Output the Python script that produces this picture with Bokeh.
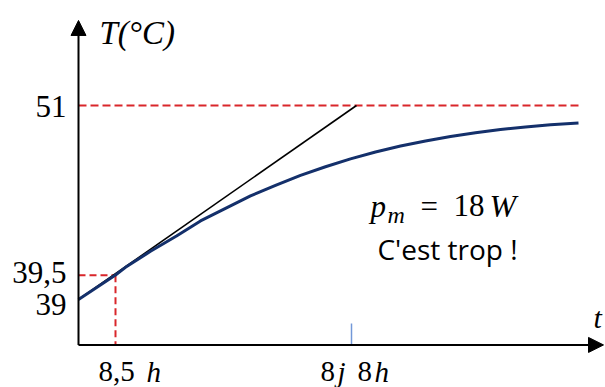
from bokeh.plotting import figure
from bokeh.models import Range1d, Arrow, NormalHead, Label
from bokeh.embed import file_html
from bokeh.resources import INLINE

# ---- schematic data (x: time, schematic units; y: temperature scale) ----
curve_t = [0.0, 0.74, 0.94, 1.44, 1.96, 2.44, 3.44, 3.94, 4.44, 4.94, 5.44, 5.94,
           6.44, 6.94, 7.44, 7.94, 8.44, 8.94, 9.44, 10.0]
curve_T = [39.0, 40.52, 40.99, 41.98, 42.93, 43.86, 45.41, 46.06, 46.68, 47.21, 47.70, 48.12,
           48.49, 48.80, 49.08, 49.31, 49.51, 49.67, 49.81, 49.92]

tangent_t = [0.0, 5.56]
tangent_T = [39.0, 51.0]

T_max = 51.0
T_ref = 40.5          # position of the "39,5" mark on the schematic scale
t_ref = 0.74          # position of the "8,5 h" mark
t_day = 5.46          # position of the "8j 8h" mark
t_end = 10.0

y_tick_vals = [51.0, 40.5, 39.0]
y_tick_labels = ["51", "39,5", "39"]

axis_y0 = 36.19       # level of the time axis
axis_x_tip = 10.5
axis_y_tip = 56.26

W, H = 605, 387
X0, X1 = -1.56, 10.54
Y0, Y1 = 33.557, 57.495

def X(px):
    return X0 + px * (X1 - X0) / W

def Y(py):
    return Y1 - py * (Y1 - Y0) / H

p = figure(width=W, height=H, x_range=Range1d(X0, X1), y_range=Range1d(Y0, Y1),
           output_backend="svg", toolbar_location=None,
           x_axis_type=None, y_axis_type=None, min_border=0)
p.grid.visible = False
p.outline_line_color = None
p.background_fill_color = "white"
p.border_fill_color = "white"

RED = "#D9262B"
NAVY = "#14306B"

# dashed guides
p.line([0, t_end], [T_max, T_max], line_color=RED, line_width=2, line_dash="8 4")
p.line([0, t_ref], [T_ref, T_ref], line_color=RED, line_width=2, line_dash="7 4")
p.line([t_ref, t_ref], [T_ref, axis_y0], line_color=RED, line_width=2, line_dash="7 4")

# tangent and curve
p.line(tangent_t, tangent_T, line_color="black", line_width=1.6)
p.line(curve_t, curve_T, line_color=NAVY, line_width=3, line_join="round")

# tick at 8j 8h
p.line([t_day, t_day], [axis_y0, Y(323)], line_color="#7398D8", line_width=1.5)

# axes with arrows
p.add_layout(Arrow(end=NormalHead(size=15, fill_color="black", line_color="black"),
                   x_start=0, y_start=axis_y0, x_end=0, y_end=axis_y_tip,
                   line_color="black", line_width=2))
p.add_layout(Arrow(end=NormalHead(size=15, fill_color="black", line_color="black"),
                   x_start=0, y_start=axis_y0, x_end=axis_x_tip, y_end=axis_y0,
                   line_color="black", line_width=2))

SERIF = "Liberation Serif"

def lab(text, x, y, size, align="left", style="normal", font=SERIF):
    p.add_layout(Label(x=x, y=y, text=text, text_font=font, text_font_size=f"{size}px",
                       text_font_style=style, text_align=align, text_baseline="middle",
                       text_color="black"))

# y tick labels
label_y_px = [106, 272, 304]
for val, txt, ypx in zip(y_tick_vals, y_tick_labels, label_y_px):
    lab(txt, X(66), Y(ypx), 31, align="right")

# axis titles
lab("T(°C)", X(99), Y(32), 33, style="italic")
lab("t", X(593), Y(317), 30, style="italic")

# x tick labels
ML = 371
lab("8,5", X(98), Y(ML), 29)
lab("h", X(146), Y(ML), 29, style="italic")
lab("8", X(320), Y(ML), 29)
lab("j", X(337), Y(ML), 29, style="italic")
lab("8", X(357), Y(ML), 29)
lab("h", X(374), Y(ML), 29, style="italic")

# annotation
lab("p", X(370), Y(206), 31, style="italic")
lab("m", X(387), Y(214), 24, style="italic")
lab("=", X(420), Y(206), 31)
lab("18", X(453), Y(205), 31)
lab("W", X(489), Y(205), 32, style="italic")
lab("C'est trop !", X(447), Y(248), 28, align="center", font="Open Sans")

open("out.html", "w").write(file_html(p, INLINE))
